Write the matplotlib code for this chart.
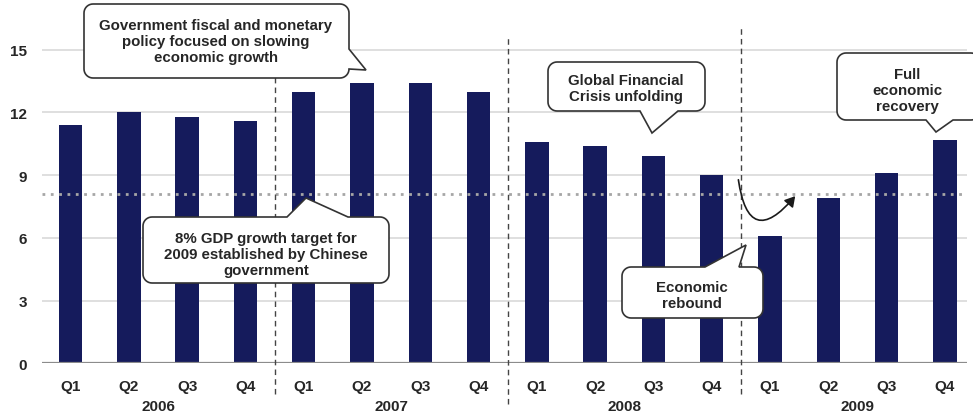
import numpy as np
import matplotlib.pyplot as plt
from matplotlib.patches import Polygon, FancyArrowPatch

plt.rcParams['font.family'] = ['Liberation Sans', 'DejaVu Sans']

# --- data ---
years = ['2006', '2007', '2008', '2009']
quarters = ['Q1', 'Q2', 'Q3', 'Q4']
gdp_2006 = [11.4, 12.0, 11.8, 11.6]
gdp_2007 = [13.0, 13.4, 13.4, 13.0]
gdp_2008 = [10.6, 10.4, 9.9, 9.0]
gdp_2009 = [6.1, 7.9, 9.1, 10.7]
target = 8.1
yticks = [0, 3, 6, 9, 12, 15]

values = gdp_2006 + gdp_2007 + gdp_2008 + gdp_2009
labels = quarters * len(years)
x = np.arange(len(values))

W, H = 973, 414
BAR = '#151b5c'
TXT = '#262626'

fig = plt.figure(figsize=(W / 100, H / 100), dpi=100)
ax = fig.add_axes([42 / W, 1 - 364.3 / H, (967 - 42) / W, 364.3 / H])

for v in yticks[1:]:
    ax.axhline(v, color='#dcdcdc', lw=1.3, zorder=0)
ax.bar(x, values, width=0.4, color=BAR, zorder=2)
ax.axhline(0, color='#8c8c8c', lw=1.6, zorder=3)
ax.axhline(target, color='#a6a6a6', lw=2, ls=(0, (1, 2)), zorder=3)

ax.set_xlim(-0.49, 15.38)
ax.set_ylim(0, 17.43)
ax.set_yticks(yticks)
ax.set_yticklabels([str(v) for v in yticks], fontsize=11, fontweight='bold', color=TXT)
ax.set_xticks(x)
ax.set_xticklabels(labels, fontsize=11, fontweight='bold', color=TXT)
ax.tick_params(length=0)
ax.tick_params(axis='x', pad=11)
ax.tick_params(axis='y', pad=11)
for s in ax.spines.values():
    s.set_visible(False)

for i, yr in enumerate(years):
    ax.text(i * 4 + 1.5, (364.3 - 407) / 364.3, yr, transform=ax.get_xaxis_transform(),
            ha='center', va='center', fontsize=11, fontweight='bold', color=TXT)

# year dividers (top / bottom in pixels)
for xd, top, bot in [(3.5, 40, 395), (7.5, 37, 405), (11.5, 29, 395)]:
    ax.axvline(xd, ymin=(364.3 - bot) / 364.3, ymax=(364.3 - top) / 364.3,
               color='#444444', lw=1, ls=(0, (4, 3)), clip_on=False, zorder=4)


def bubble(x0, y0, x1, y1, side, p, q, tip, r=9):
    pts = []

    def arc(cx, cy, a0, a1):
        for t in np.linspace(a0, a1, 10):
            pts.append((cx + r * np.cos(t), cy + r * np.sin(t)))

    arc(x0 + r, y0 + r, np.pi, 1.5 * np.pi)
    if side == 'top':
        pts.extend([(p, y0), tip, (q, y0)])
    arc(x1 - r, y0 + r, 1.5 * np.pi, 2 * np.pi)
    if side == 'right':
        pts.extend([(x1, p), tip, (x1, q)])
    arc(x1 - r, y1 - r, 0, 0.5 * np.pi)
    if side == 'bottom':
        pts.extend([(q, y1), tip, (p, y1)])
    arc(x0 + r, y1 - r, 0.5 * np.pi, np.pi)
    return [(px / W, 1 - py / H) for px, py in pts]


callouts = [
    ((84, 5, 349, 79, 'right', 50, 70, (366, 71)), (216, 42),
     'Government fiscal and monetary\npolicy focused on slowing\neconomic growth'),
    ((548, 63, 705, 112, 'bottom', 640, 678, (652, 134)), (626, 89),
     'Global Financial\nCrisis unfolding'),
    ((837, 54, 980, 121, 'bottom', 926, 953, (936, 133)), (907, 91),
     'Full\neconomic\nrecovery'),
    ((143, 218, 389, 284, 'top', 287, 348, (306, 199)), (266, 255),
     '8% GDP growth target for\n2009 established by Chinese\ngovernment'),
    ((622, 268, 763, 319, 'top', 705, 739, (746, 246)), (692, 296),
     'Economic\nrebound'),
]
for geo, (tx, ty), txt in callouts:
    poly = Polygon(bubble(*geo), closed=True, facecolor='white', edgecolor='#333333',
                   lw=1.2, transform=fig.transFigure, clip_on=False, zorder=6)
    ax.add_patch(poly)
    ax.text(tx / W, 1 - ty / H, txt, transform=fig.transFigure, ha='center', va='center',
            fontsize=10.8, fontweight='bold', color=TXT, linespacing=1.2, zorder=7)

arrow = FancyArrowPatch((738 / W, 1 - 178 / H), (797 / W, 1 - 195 / H),
                        transform=fig.transFigure, connectionstyle='arc3,rad=1.15',
                        arrowstyle='-|>,head_length=6,head_width=3.5', color='#1a1a1a',
                        lw=1.2, zorder=6)
fig.add_artist(arrow)

fig.savefig('out.png', dpi=100)
